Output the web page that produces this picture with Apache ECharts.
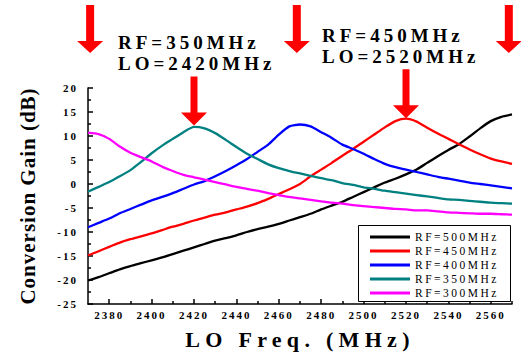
<!DOCTYPE html>
<html>
<head>
<meta charset="utf-8">
<script src="https://cdn.jsdelivr.net/npm/echarts@6/dist/echarts.min.js"></script>
<style>
html, body { margin: 0; padding: 0; background: #fff; }
#chart { width: 521px; height: 355px; }
/* spaced-out lettering like the original plot */
#chart text[style*="11px"] { letter-spacing: 2px; }
#chart text[style*="11.5px"] { letter-spacing: 2.5px; }
#chart text[style*="19px"] { letter-spacing: 4px; }
#chart text[style*="22px"] { letter-spacing: 5.3px; }
#chart text[style*="21px"] { letter-spacing: 1px; }
</style>
</head>
<body>
<div id="chart"></div>
<script>
// LO frequency (MHz)
const freq = [2370, 2375, 2380, 2385, 2390, 2395, 2400, 2405, 2410, 2415,
    2420, 2425, 2430, 2435, 2440, 2445, 2450, 2455, 2460, 2465,
    2470, 2475, 2480, 2485, 2490, 2495, 2500, 2505, 2510, 2515,
    2520, 2525, 2530, 2535, 2540, 2545, 2550, 2555, 2560, 2565, 2570];

// conversion gain (dB) per RF
const rf500 = [-20.1, -19.4, -18.6, -17.8, -17.1, -16.5, -15.9, -15.3, -14.6, -13.9,
    -13.2, -12.5, -11.8, -11.3, -10.7, -10.0, -9.4, -8.9, -8.3, -7.6,
    -6.9, -6.2, -5.3, -4.5, -3.7, -2.7, -1.7, -0.7, 0.3, 1.1,
    2.0, 3.0, 4.4, 5.8, 7.1, 8.3, 9.9, 11.6, 13.1, 14.0, 14.5];
const rf450 = [-14.9, -14.0, -13.1, -12.2, -11.5, -10.9, -10.3, -9.6, -8.9, -8.3,
    -7.6, -7.0, -6.4, -5.9, -5.3, -4.7, -4.0, -3.1, -2.1, -1.1,
    0.0, 1.6, 3.0, 4.4, 5.9, 7.3, 8.8, 10.3, 11.8, 13.1,
    13.6, 13.0, 11.7, 10.5, 9.4, 8.3, 7.2, 6.2, 5.3, 4.7, 4.2];
const rf400 = [-9.0, -8.1, -7.2, -6.1, -5.2, -4.3, -3.4, -2.7, -1.9, -1.0,
    -0.1, 0.6, 1.6, 2.7, 3.9, 5.2, 6.7, 8.2, 10.3, 12.0,
    12.4, 12.0, 10.8, 9.6, 8.2, 7.3, 6.3, 5.2, 4.2, 3.5,
    3.0, 2.5, 2.0, 1.5, 1.1, 0.7, 0.3, 0.0, -0.3, -0.6, -0.9];
const rf350 = [-1.6, -0.6, 0.4, 1.6, 2.9, 4.6, 6.4, 8.0, 9.4, 10.8,
    11.9, 11.6, 10.6, 9.2, 7.7, 6.3, 5.2, 4.1, 3.3, 2.7,
    2.2, 1.7, 1.2, 0.8, 0.2, -0.2, -0.7, -1.0, -1.4, -1.7,
    -2.0, -2.3, -2.6, -2.9, -3.2, -3.3, -3.5, -3.7, -3.9, -4.0, -4.1];
const rf300 = [10.7, 10.4, 9.4, 7.8, 6.5, 5.6, 4.7, 3.6, 2.7, 1.9,
    1.4, 0.9, 0.4, -0.1, -0.6, -1.0, -1.4, -1.9, -2.3, -2.7,
    -3.0, -3.3, -3.6, -3.9, -4.1, -4.4, -4.6, -4.8, -5.0, -5.2,
    -5.3, -5.5, -5.5, -5.7, -5.9, -6.0, -6.1, -6.2, -6.2, -6.3, -6.4];

const seriesNames = ['RF=500MHz', 'RF=450MHz', 'RF=400MHz', 'RF=350MHz', 'RF=300MHz'];
const seriesColors = ['#000000', '#ff0000', '#0000ff', '#008080', '#ff00ff'];
const seriesValues = [rf500, rf450, rf400, rf350, rf300];

// tick labels
const xMajor = [2380, 2400, 2420, 2440, 2460, 2480, 2500, 2520, 2540, 2560];
const xMinor = [2390, 2410, 2430, 2450, 2470, 2490, 2510, 2530, 2550, 2570];

// annotations
const topArrowFreq = [2371, 2468.5, 2568.5];
const peakArrows = [[2420, 12.2], [2520, 13.7]];
const noteLines = [['RF=350MHz', 'LO=2420MHz'], ['RF=450MHz', 'LO=2520MHz']];

const serif = '"Liberation Serif", "Times New Roman", serif';

const chart = echarts.init(document.getElementById('chart'), null, { renderer: 'svg' });

const option = {
    animation: false,
    backgroundColor: '#fff',
    grid: { left: 88, top: 88, right: 9, bottom: 50 },
    legend: {
        orient: 'vertical',
        left: 370,
        top: 231,
        padding: 0,
        z: 20,
        itemWidth: 40,
        itemHeight: 11,
        itemGap: 2,
        icon: 'path://M0,0H40V3H0Z',
        data: seriesNames,
        textStyle: { fontFamily: serif, fontSize: 11.5, lineHeight: 11, color: '#000' }
    },
    xAxis: [
        {
            type: 'value',
            min: 2370,
            max: 2570,
            name: 'LO Freq. (MHz)',
            nameLocation: 'middle',
            nameGap: 24,
            nameTextStyle: { fontFamily: serif, fontSize: 22, fontWeight: 'bold', color: '#000' },
            axisLine: { onZero: false, lineStyle: { color: '#000', width: 1.5 } },
            axisTick: { inside: true, length: 5, customValues: xMajor, lineStyle: { width: 1.5 } },
            axisLabel: {
                customValues: xMajor, margin: 5, formatter: (v) => String(v),
                fontFamily: serif, fontSize: 11, fontWeight: 'bold', color: '#000'
            },
            splitLine: { show: false }
        },
        {
            // short ticks between the labelled ones
            type: 'value',
            min: 2370,
            max: 2570,
            position: 'bottom',
            axisLine: { show: false, onZero: false },
            axisTick: { inside: true, length: 3, customValues: xMinor, lineStyle: { color: '#000', width: 1.5 } },
            axisLabel: { show: false },
            splitLine: { show: false }
        }
    ],
    yAxis: {
        type: 'value',
        min: -25,
        max: 20,
        interval: 5,
        name: 'Conversion Gain (dB)',
        nameLocation: 'middle',
        nameGap: 50,
        nameTextStyle: { fontFamily: serif, fontSize: 21, fontWeight: 'bold', color: '#000' },
        axisLine: { show: true, onZero: false, lineStyle: { color: '#000', width: 1.5 } },
        axisTick: { show: true, inside: true, length: 5, lineStyle: { width: 1.5 } },
        minorTick: { show: true, splitNumber: 2, length: 3, lineStyle: { color: '#000', width: 1.5 } },
        axisLabel: { margin: 10, fontFamily: serif, fontSize: 11, fontWeight: 'bold', color: '#000' },
        splitLine: { show: false }
    },
    series: seriesNames.map((name, k) => ({
        name: name,
        type: 'line',
        symbol: 'none',
        smooth: 0.2,
        color: seriesColors[k],
        lineStyle: { width: 2.3, color: seriesColors[k] },
        data: freq.map((f, i) => [f, seriesValues[k][i]])
    }))
};

chart.setOption(option);

// arrows + notes, placed from axis values
function arrowPoints(cx, top, tip, headH, headW, shaftW) {
    return [
        [cx - shaftW / 2, top], [cx + shaftW / 2, top], [cx + shaftW / 2, tip - headH],
        [cx + headW / 2, tip - headH], [cx, tip], [cx - headW / 2, tip - headH],
        [cx - shaftW / 2, tip - headH]
    ];
}

const graphics = [];
graphics.push({
    type: 'rect', z: 3,
    shape: { x: 358.5, y: 225.5, width: 152, height: 76 },
    style: { fill: '#fff', stroke: '#000', lineWidth: 1 }
});
topArrowFreq.forEach((f) => {
    const px = chart.convertToPixel({ gridIndex: 0 }, [f, 0])[0];
    graphics.push({ type: 'polygon', shape: { points: arrowPoints(px, 5, 53, 12, 26, 8) }, style: { fill: '#ff0000' } });
});
peakArrows.forEach((p) => {
    const pt = chart.convertToPixel({ gridIndex: 0 }, p);
    const top = pt[1] - 49;
    graphics.push({ type: 'polygon', z: 10, shape: { points: arrowPoints(pt[0], top, pt[1], 13, 26, 7) }, style: { fill: '#ff0000' } });
});
const noteX = [118, 322];
const noteY = [[42, 63], [35, 56]];
noteLines.forEach((lines, i) => {
    lines.forEach((t, j) => {
        graphics.push({
            type: 'text',
            style: { text: t, x: noteX[i], y: noteY[i][j], font: 'bold 19px ' + serif, fill: '#000', textVerticalAlign: 'middle' }
        });
    });
});

chart.setOption({ graphic: graphics });
</script>
</body>
</html>
